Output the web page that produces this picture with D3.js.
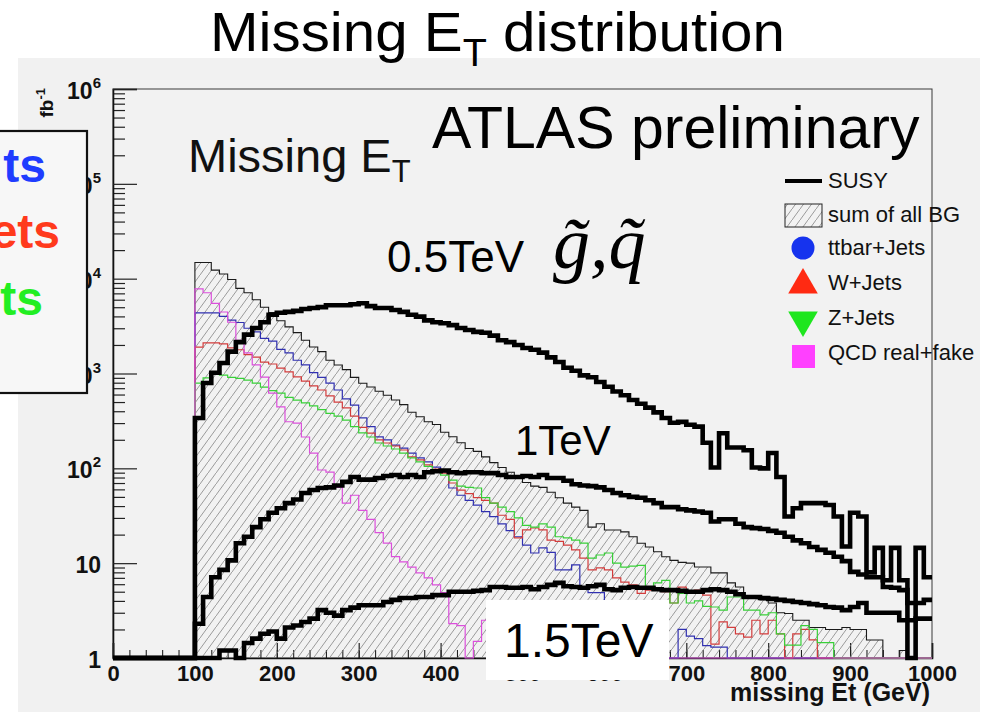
<!DOCTYPE html>
<html>
<head>
<meta charset="utf-8">
<script src="https://cdn.jsdelivr.net/npm/d3@7/dist/d3.min.js"></script>
<style>
  html, body { margin: 0; padding: 0; background: #ffffff; }
  svg { display: block; font-family: "Liberation Sans", Arial, Helvetica, sans-serif; }
</style>
</head>
<body>
<svg id="chart" width="990" height="712"></svg>
<script>
// Missing transverse energy, events per 10 GeV bin from 100 to 1000 GeV
const binStart = 100, binStep = 10, binCount = 90;

const sumAllBG = [14800, 14800, 12300, 11200, 9800, 7900, 7100, 6000, 5000, 4400,
  3600, 3100, 2700, 2240, 1900, 1700, 1380, 1230, 1100, 910,
  790, 720, 650, 590, 525, 470, 390, 350, 310, 290,
  240, 215, 186, 162, 151, 132, 115, 102, 91, 81,
  71, 65, 63, 56, 49, 43, 39, 36, 24, 26,
  22.4, 22.4, 21.4, 19, 16.2, 14.8, 13.2, 11.7, 10.7, 10.2,
  10, 9.1, 9.1, 7.9, 7.9, 6.2, 5.6, 4.4, 4.3, 4.1,
  3.8, 3.0, 2.95, 2.5, 2.5, 2.1, 2.1, 2.0, 2.0, 2.1,
  2.0, 2.0, 1.55, 1.55, 0, 0, 1.2, 0, 0, 0];

const ttbarJets = [4350, 4350, 4350, 4000, 3650, 3450, 3000, 2750, 2350, 2200,
  1800, 1650, 1380, 1230, 1020, 910, 790, 670, 540, 465,
  340, 275, 215, 200, 176, 163, 145, 129, 117, 103,
  91, 62, 52, 46, 41, 35, 31, 26, 22, 19,
  15.5, 12.8, 14.5, 13, 8.5, 8.5, 9.6, 5.6, 4.9, 4.9,
  3.2, 2.5, 0, 0, 0, 0, 0, 0, 0, 2.0,
  1.7, 1.6, 1.35, 1.3, 1.3, 0, 0, 0, 0, 0,
  0, 0, 0, 0, 0, 0, 0, 0, 0, 0,
  0, 0, 0, 0, 0, 0, 0, 0, 0, 0];

const wJets = [1900, 2100, 2100, 2050, 1860, 1780, 1580, 1490, 1320, 1260,
  1140, 1040, 920, 830, 740, 670, 580, 500, 435, 355,
  270, 235, 200, 185, 172, 156, 132, 123, 109, 98,
  89, 70, 59, 54, 49, 46, 43, 32, 29, 18.5,
  22.4, 23.5, 22.4, 17.5, 17, 15.5, 13.8, 11.3, 8.5, 8.9,
  8.5, 7.0, 6.3, 5.9, 4.8, 5.2, 5.2, 5.0, 3.8, 5.6,
  4.8, 5.2, 4.6, 1.4, 2.4, 2.1, 1.8, 1.66, 2.5, 1.8,
  2.5, 1.8, 0, 1.8, 2.0, 1.55, 0, 0, 0, 0,
  0, 0, 0, 0, 0, 0, 0, 0, 0, 0];

const zJets = [790, 900, 1000, 960, 910, 890, 850, 790, 720, 660,
  620, 560, 525, 490, 455, 415, 380, 355, 323, 275,
  236, 214, 185, 172, 160, 145, 129, 117, 105, 96,
  85, 75, 65, 63, 62, 49, 43, 39, 35, 30,
  25, 24, 26, 24, 19, 18.5, 17.5, 16.3, 11.3, 12.2,
  12.8, 10, 9.1, 9.3, 9.5, 5.5, 6.2, 6.6, 3.8, 4.8,
  3.8, 4.0, 3.5, 3.45, 3.2, 4.4, 4.4, 3.2, 3.2, 2.85,
  3.0, 1.8, 1.37, 1.37, 2.2, 2.0, 1.45, 1.45, 0, 0,
  0, 0, 0, 0, 0, 0, 0, 0, 0, 0];

const qcdRealFake = [7800, 7100, 5500, 4450, 3470, 2240, 1650, 1230, 915, 620,
  445, 310, 300, 214, 145, 96, 91, 63, 43, 52,
  36, 29, 21, 16.3, 11.7, 10.3, 9.1, 7.9, 7.0, 5.9,
  4.9, 2.3, 2.2, 0, 1.5, 2.5, 0, 0, 0, 0,
  0, 0, 0, 0, 0, 0, 0, 0, 0, 0,
  0, 0, 0, 0, 0, 0, 0, 0, 0, 0,
  0, 0, 0, 0, 0, 0, 0, 0, 0, 0,
  0, 0, 0, 0, 0, 0, 0, 0, 0, 0,
  0, 0, 0, 0, 0, 0, 0, 0, 0, 0];

// SUSY signal for gluino/squark mass 0.5, 1 and 1.5 TeV
const susy05 = [340, 795, 1020, 1290, 1700, 2140, 2570, 3020, 3470, 4170,
  4370, 4470, 4570, 4790, 4900, 5010, 5250, 5250, 5250, 5370,
  5500, 5130, 4900, 4900, 4680, 4470, 4170, 3980, 3630, 3470,
  3390, 3240, 3020, 2880, 2750, 2690, 2510, 2240, 2140, 2000,
  1860, 1780, 1660, 1480, 1320, 1150, 1070, 955, 912, 813,
  724, 646, 589, 525, 479, 437, 389, 339, 302, 309,
  288, 275, 186, 102, 234, 166, 166, 155, 102, 100,
  145, 81, 31, 38, 43, 43, 43, 41, 31, 15,
  34, 31, 8, 14.5, 6.6, 14.5, 6.6, 0, 14.5, 7.1];

const susy10 = [2.3, 4.4, 7.1, 8.5, 10.7, 16.2, 19, 24, 29, 34,
  38, 43, 47, 55, 59, 62, 63, 66, 72, 81,
  76, 76, 79, 83, 85, 81, 85, 81, 91, 93,
  95, 91, 89, 91, 91, 89, 89, 85, 81, 81,
  83, 81, 85, 79, 79, 74, 68, 66, 65, 63,
  59, 55, 52, 50, 49, 46, 43, 39, 39, 37,
  36, 35, 34, 27.5, 29, 29, 26, 24, 23.4, 22.9,
  21.9, 20.9, 19, 17.4, 16.2, 14.8, 13.8, 12.9, 11.7, 10.5,
  8.1, 7.6, 7.1, 7.1, 5.6, 5.5, 5.2, 3.8, 3.8, 4.1];

const susy15 = [0, 0, 0, 1.2, 1.2, 0, 1.44, 1.6, 1.8, 1.9,
  1.6, 2.1, 2.2, 2.4, 2.6, 3.2, 3.0, 2.8, 3.2, 3.4,
  3.6, 3.6, 3.6, 3.9, 4.1, 4.3, 4.3, 4.4, 4.4, 4.6,
  4.6, 5.0, 5.0, 5.0, 5.1, 5.2, 5.6, 5.6, 5.5, 5.5,
  5.6, 5.3, 5.6, 5.9, 6.2, 5.7, 5.6, 5.5, 5.7, 5.9,
  5.3, 5.2, 5.5, 5.6, 5.5, 5.5, 5.3, 5.2, 5.2, 5.1,
  5.0, 5.0, 5.2, 5.3, 5.2, 5.0, 4.7, 4.4, 4.4, 4.3,
  4.2, 4.1, 4.0, 3.9, 3.8, 3.7, 3.6, 3.45, 3.4, 3.2,
  3.45, 3.8, 3.0, 3.0, 3.0, 3.0, 2.5, 2.5, 2.6, 2.6];

const xTickLabels = ["0", "100", "200", "300", "400", "500", "600", "700", "800", "900", "1000"];
const yTickLabels = [["1", ""], ["10", ""], ["10", "2"], ["10", "3"], ["10", "4"], ["10", "5"], ["10", "6"]];

const legendEntries = ["SUSY", "sum of all BG", "ttbar+Jets", "W+Jets", "Z+Jets", "QCD real+fake"];

// ---------------------------------------------------------------
const svg = d3.select("#chart");
const frame = { left: 113, right: 932, top: 89, bottom: 658 };

const x = d3.scaleLinear().domain([0, 1000]).range([frame.left, frame.right]);
const y = d3.scaleLog().domain([1, 1e6]).range([frame.bottom, frame.top]).clamp(true);

const edges = d3.range(binCount + 1).map(i => binStart + i * binStep);

// step outline of a histogram, empty bins sitting on the lower edge
function stepPoints(values, closeRight) {
  const pts = [[0, 1], [binStart, 1]];
  values.forEach((v, i) => {
    const h = Math.max(v, 1);
    pts.push([edges[i], h], [edges[i + 1], h]);
  });
  if (closeRight) pts.push([1000, 1]);
  return pts;
}
const stepLine = d3.line().x(d => x(d[0])).y(d => y(d[1]));

// canvas background
svg.append("rect").attr("x", 18).attr("y", 58).attr("width", 962).attr("height", 654)
  .attr("fill", "#f1f1f1");

// hatch pattern for the summed background
const defs = svg.append("defs");
const pat = defs.append("pattern").attr("id", "hatch").attr("patternUnits", "userSpaceOnUse")
  .attr("width", 8).attr("height", 11);
pat.append("path").attr("d", "M-2,13.75 L10,-2.75")
  .attr("stroke", "#7c7c7c").attr("stroke-width", 0.75).attr("fill", "none");

defs.append("clipPath").attr("id", "leftbox")
  .append("rect").attr("x", 0).attr("y", 131).attr("width", 87).attr("height", 262);

// frame
svg.append("rect").attr("x", frame.left).attr("y", frame.top)
  .attr("width", frame.right - frame.left).attr("height", frame.bottom - frame.top)
  .attr("fill", "#f2f2f2").attr("stroke", "#3a3a3a").attr("stroke-width", 1);

// axes
const axisG = svg.append("g");
const yMajor = d3.range(0, 7).map(p => Math.pow(10, p));
const yMinor = [];
for (let p = 0; p < 6; p++) for (let m = 2; m <= 9; m++) yMinor.push(m * Math.pow(10, p));

axisG.append("g").attr("transform", `translate(${frame.left},0)`)
  .call(d3.axisLeft(y).tickValues(yMinor).tickSize(-12).tickFormat(""))
  .call(g => g.select(".domain").remove())
  .call(g => g.selectAll("line").attr("stroke", "#222").attr("stroke-width", 1.2));
axisG.append("g").attr("transform", `translate(${frame.left},0)`)
  .call(d3.axisLeft(y).tickValues(yMajor).tickSize(-24).tickFormat(""))
  .call(g => g.select(".domain").attr("stroke", "#111").attr("stroke-width", 1.6))
  .call(g => g.selectAll("line").attr("stroke", "#222").attr("stroke-width", 1.2));

axisG.append("g").attr("transform", `translate(0,${frame.bottom})`)
  .call(d3.axisBottom(x).tickValues(d3.range(0, 1001, 20)).tickSize(-8).tickFormat(""))
  .call(g => g.select(".domain").remove())
  .call(g => g.selectAll("line").attr("stroke", "#222").attr("stroke-width", 1.1));
axisG.append("g").attr("transform", `translate(0,${frame.bottom})`)
  .call(d3.axisBottom(x).tickValues(d3.range(0, 1001, 100)).tickSize(-15)
    .tickPadding(7).tickFormat((d, i) => xTickLabels[i]))
  .call(g => g.select(".domain").attr("stroke", "#111").attr("stroke-width", 1.6))
  .call(g => g.selectAll("line").attr("stroke", "#222").attr("stroke-width", 1.2))
  .call(g => g.selectAll("text").attr("fill", "#111").attr("font-size", 22)
    .attr("font-weight", "bold").style("font-family", "Liberation Sans, Arial, sans-serif"));

// y tick labels with exponents
const yl = svg.append("g").attr("font-weight", "bold").attr("fill", "#111");
yTickLabels.forEach((lab, i) => {
  const t = yl.append("text").attr("x", 101).attr("y", y(yMajor[i]) + 10)
    .attr("text-anchor", "end").attr("font-size", 23);
  t.append("tspan").text(lab[0]);
  if (lab[1]) t.append("tspan").attr("font-size", 15).attr("dy", -11).text(lab[1]);
});

// x axis title
svg.append("text").attr("x", 930).attr("y", 701).attr("text-anchor", "end")
  .attr("font-size", 25).attr("font-weight", "bold").attr("fill", "#111")
  .text("missing Et (GeV)");

// summed background: hatched area with thin outline
svg.append("path").attr("d", stepLine(stepPoints(sumAllBG, true)) + "Z")
  .attr("fill", "url(#hatch)").attr("stroke", "none");
svg.append("path").attr("d", stepLine(stepPoints(sumAllBG, false)))
  .attr("fill", "none").attr("stroke", "#1a1a1a").attr("stroke-width", 1.1);

// individual backgrounds
const components = [
  { values: ttbarJets, color: "#3030b0" },
  { values: wJets, color: "#d23c3c" },
  { values: zJets, color: "#38d038" },
  { values: qcdRealFake, color: "#dc50dc" }
];
components.forEach(c => {
  svg.append("path").attr("d", stepLine(stepPoints(c.values, false)))
    .attr("fill", "none").attr("stroke", c.color).attr("stroke-width", 1.2);
});

// signal curves
[susy15, susy10, susy05].forEach(vals => {
  svg.append("path").attr("d", stepLine(stepPoints(vals, false)))
    .attr("fill", "none").attr("stroke", "#000").attr("stroke-width", 4.6)
    .attr("stroke-linejoin", "miter");
});

// legend
const lg = svg.append("g").attr("font-size", 22).attr("fill", "#111");
const lgY = [181, 215, 248, 283, 318, 353];
lg.append("line").attr("x1", 785).attr("x2", 822).attr("y1", lgY[0]).attr("y2", lgY[0])
  .attr("stroke", "#000").attr("stroke-width", 4);
lg.append("rect").attr("x", 785).attr("y", lgY[1] - 11).attr("width", 37).attr("height", 23)
  .attr("fill", "url(#hatch)").attr("stroke", "#222").attr("stroke-width", 1);
lg.append("circle").attr("cx", 803).attr("cy", lgY[2]).attr("r", 11.5).attr("fill", "#1633ee");
lg.append("path").attr("d", d3.symbol(d3.symbolTriangle, 380)())
  .attr("transform", `translate(803,${lgY[3] + 2})`).attr("fill", "#ff2a12");
lg.append("path").attr("d", d3.symbol(d3.symbolTriangle, 380)())
  .attr("transform", `translate(803,${lgY[4] + 2}) rotate(180)`).attr("fill", "#1ee61e");
lg.append("rect").attr("x", 792).attr("y", lgY[5] - 8).attr("width", 23).attr("height", 23)
  .attr("fill", "#ff40ff");
legendEntries.forEach((name, i) => {
  lg.append("text").attr("x", 828).attr("y", lgY[i] + 7).text(name);
});

// page title, set in a tall narrow face
const title = svg.append("text").attr("font-size", 56).attr("fill", "#000");
title.append("tspan").text("Missing E");
title.append("tspan").attr("font-size", 38).attr("dy", 15).text("T");
title.append("tspan").attr("dy", -15).text(" distribution");
const tw = title.node().getComputedTextLength();
title.attr("transform", `translate(210,51) scale(${575 / tw},1)`);

svg.append("text").attr("x", 432).attr("y", 148).attr("font-size", 59).attr("fill", "#000")
  .text("ATLAS preliminary");

svg.append("text").attr("x", 188).attr("y", 172).attr("font-size", 47).attr("fill", "#111")
  .call(t => {
    t.append("tspan").text("Missing E");
    t.append("tspan").attr("font-size", 31).attr("dy", 10).text("T");
  });

svg.append("text").attr("x", 387).attr("y", 272).attr("font-size", 44).attr("fill", "#000")
  .text("0.5TeV");
svg.append("text").attr("x", 553).attr("y", 268).attr("font-size", 74)
  .attr("font-style", "italic").style("font-family", "Liberation Serif, Times New Roman, serif")
  .attr("fill", "#000").text("g\u0303,q\u0303");

svg.append("text").attr("x", 515).attr("y", 455).attr("font-size", 42).attr("fill", "#000")
  .text("1TeV");

svg.append("rect").attr("x", 486).attr("y", 600).attr("width", 183).attr("height", 80)
  .attr("fill", "#ffffff");
svg.append("text").attr("x", 504).attr("y", 657).attr("font-size", 48).attr("fill", "#000")
  .text("1.5TeV");

// y axis title, partly hidden behind the process box
svg.append("text").attr("transform", "translate(53,88) rotate(-90)")
  .attr("text-anchor", "end").attr("font-size", 19).attr("font-weight", "bold").attr("fill", "#111")
  .call(t => {
    t.append("tspan").text("fb");
    t.append("tspan").attr("font-size", 13).attr("dy", -8).text("-1");
  });

// process box on the left
svg.append("rect").attr("x", -2).attr("y", 131).attr("width", 89).attr("height", 262)
  .attr("fill", "#f7f7f7").attr("stroke", "#111").attr("stroke-width", 2.2);
const pb = svg.append("g").attr("clip-path", "url(#leftbox)")
  .attr("font-size", 48).attr("font-weight", "bold");
pb.append("text").attr("x", 46).attr("y", 182).attr("text-anchor", "end").attr("fill", "#1f3cff").text("ts");
pb.append("text").attr("x", 60).attr("y", 248).attr("text-anchor", "end").attr("fill", "#ff3a1c").text("ets");
pb.append("text").attr("x", 43).attr("y", 315).attr("text-anchor", "end").attr("fill", "#22ee22").text("ts");
</script>
</body>
</html>
